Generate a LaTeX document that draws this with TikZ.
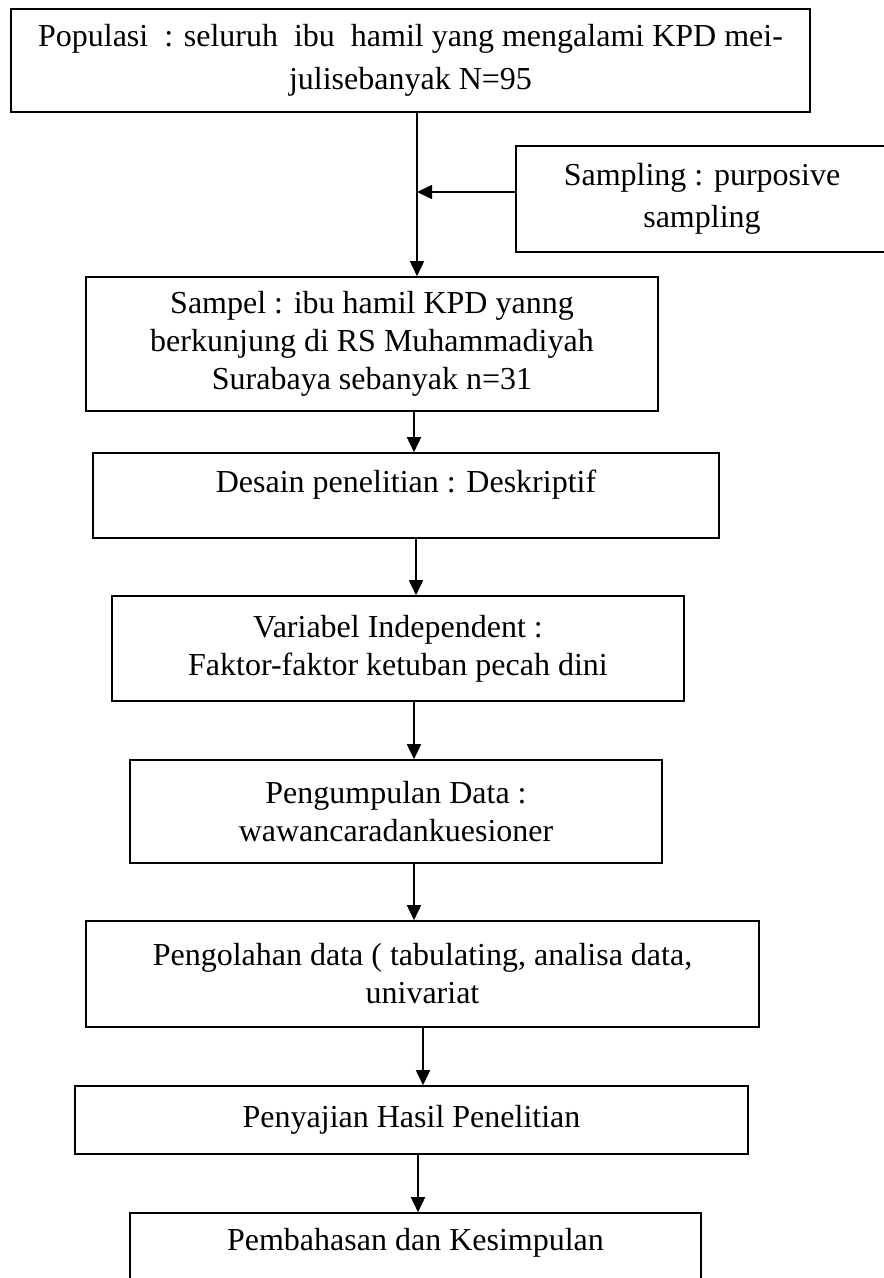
\documentclass[tikz,border=0pt]{standalone}
\usepackage{fontspec}
\setmainfont{Liberation Serif}
\usepackage{tikz}
\usetikzlibrary{arrows.meta,positioning,calc}
\tikzstyle{box}=[draw,rectangle,line width=1.6pt,inner sep=0pt,align=center,font=\fontsize{32}{38}\selectfont]
\tikzstyle{arr}=[line width=1.6pt,-{Triangle[length=15pt,width=14pt]}]

\begin{document}
\begin{tikzpicture}[x=1pt,y=-1pt]
\useasboundingbox (0,0) rectangle (884,1278);
\clip (0,0) rectangle (884,1278);
\node [box,minimum width=799,minimum height=103,font=\fontsize{32}{43}\selectfont] (pop) at (410.5,60.5)
  {Populasi\ \ : seluruh\ \ ibu\ \ hamil yang mengalami KPD mei-\\julisebanyak N=95};
\node [box,minimum width=372,minimum height=106,font=\fontsize{32}{42}\selectfont] (samp) at (702,199)
  {Sampling : purposive\\sampling};
\node [box,minimum width=572,minimum height=134] (sampel) at (372,344)
  {Sampel : ibu hamil KPD yanng\\berkunjung di RS Muhammadiyah\\Surabaya sebanyak n=31};
\node [box,minimum width=626,minimum height=85,text depth=28pt] (desain) at (406,495.5)
  {Desain penelitian : Deskriptif};
\node [box,minimum width=572,minimum height=105] (variabel) at (398,648.5)
  {Variabel Independent :\\Faktor-faktor ketuban pecah dini};
\node [box,minimum width=532,minimum height=103] (kumpul) at (396,811.5)
  {Pengumpulan Data :\\wawancaradankuesioner};
\node [box,minimum width=673,minimum height=106] (olah) at (422.5,974)
  {Pengolahan data ( tabulating, analisa data,\\univariat};
\node [box,minimum width=673,minimum height=68] (saji) at (411.5,1120)
  {Penyajian Hasil Penelitian};
\node [box,minimum width=571,minimum height=77,text depth=24pt] (bahas) at (415.5,1251.5)
  {Pembahasan dan Kesimpulan};
% sampling joins the first arrow
\coordinate (join) at (417,192);
\draw [arr] (pop.south -| join) -- (sampel.north -| join);
\draw [arr] (samp.west |- join) -- (join);
\draw [arr] (sampel.south -| 414,0) -- (desain.north -| 414,0);
\draw [arr] (desain.south -| 416,0) -- (variabel.north -| 416,0);
\draw [arr] (variabel.south -| 414,0) -- (kumpul.north -| 414,0);
\draw [arr] (kumpul.south -| 414,0) -- (olah.north -| 414,0);
\draw [arr] (olah.south -| 423,0) -- (saji.north -| 423,0);
\draw [arr] (saji.south -| 418,0) -- (bahas.north -| 418,0);
\end{tikzpicture}
\end{document}
